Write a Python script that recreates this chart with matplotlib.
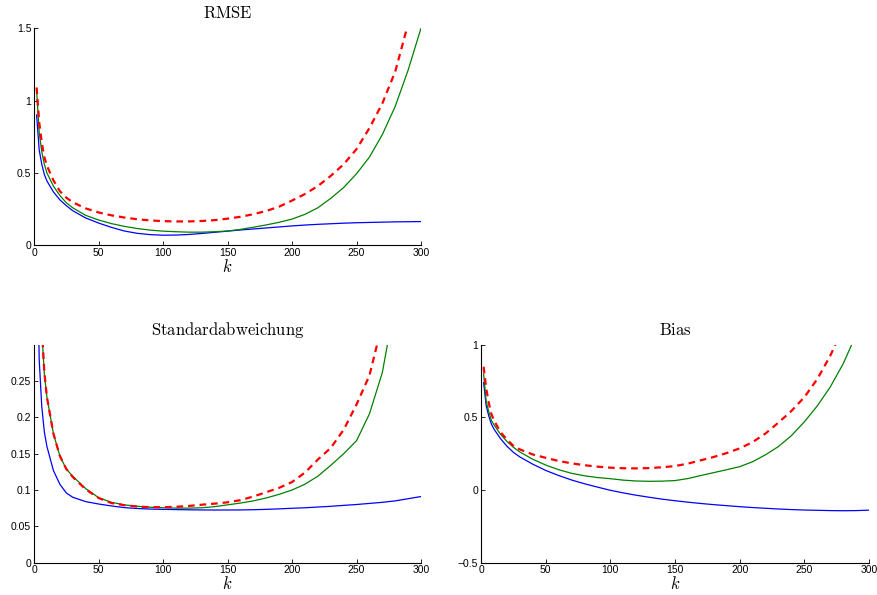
import matplotlib
matplotlib.use("Agg")
import matplotlib.pyplot as plt

plt.rcParams['mathtext.fontset'] = 'cm'
plt.rcParams['font.family'] = ['Liberation Sans', 'DejaVu Sans']

k = [2, 4, 6, 8, 10, 15, 20, 25, 30, 40, 50, 60, 70, 80, 90, 100, 110, 120, 130, 140,
     150, 160, 170, 180, 190, 200, 210, 220, 230, 240, 250, 260, 270, 280, 290, 300]

# RMSE
rmse_blue = [0.90, 0.66, 0.56, 0.49, 0.445, 0.37, 0.315, 0.275, 0.24, 0.19, 0.155, 0.125, 0.100,
             0.084, 0.075, 0.071, 0.072, 0.076, 0.083, 0.091, 0.099, 0.107, 0.114, 0.121, 0.128,
             0.135, 0.141, 0.146, 0.150, 0.154, 0.157, 0.159, 0.161, 0.163, 0.164, 0.165]
rmse_green = [1.07, 0.78, 0.645, 0.56, 0.50, 0.41, 0.345, 0.295, 0.26, 0.208, 0.176, 0.151, 0.132,
              0.117, 0.106, 0.099, 0.095, 0.092, 0.092, 0.095, 0.100, 0.111, 0.126, 0.142, 0.160,
              0.182, 0.215, 0.260, 0.325, 0.400, 0.495, 0.610, 0.765, 0.960, 1.210, 1.500]
rmse_red = [1.09, 0.85, 0.71, 0.61, 0.55, 0.45, 0.375, 0.33, 0.298, 0.256, 0.228, 0.208, 0.193,
            0.181, 0.173, 0.168, 0.166, 0.166, 0.169, 0.175, 0.185, 0.198, 0.216, 0.238, 0.268,
            0.310, 0.355, 0.410, 0.480, 0.560, 0.665, 0.810, 0.980, 1.200, 1.530, 2.000]

# Standardabweichung
std_blue = [0.50, 0.28, 0.215, 0.18, 0.16, 0.127, 0.108, 0.096, 0.090, 0.084, 0.0807, 0.078,
            0.0757, 0.0745, 0.0737, 0.0733, 0.0730, 0.0727, 0.0725, 0.0724, 0.0724, 0.0725,
            0.0728, 0.0733, 0.0740, 0.0748, 0.0755, 0.0765, 0.0775, 0.0788, 0.0800, 0.0815,
            0.0830, 0.0850, 0.0880, 0.0910]
std_green = [0.70, 0.45, 0.32, 0.26, 0.228, 0.178, 0.147, 0.129, 0.119, 0.102, 0.0895, 0.083,
             0.0795, 0.0775, 0.0762, 0.0755, 0.0750, 0.0750, 0.0755, 0.0770, 0.0795, 0.0820,
             0.0850, 0.0890, 0.0940, 0.1000, 0.1080, 0.1190, 0.1340, 0.1500, 0.1680, 0.2050,
             0.2620, 0.3600, 0.4800, 0.6200]
std_red = [0.72, 0.46, 0.325, 0.262, 0.228, 0.178, 0.147, 0.129, 0.118, 0.101, 0.089, 0.082,
           0.079, 0.0772, 0.0763, 0.0763, 0.0768, 0.0780, 0.0797, 0.0812, 0.0830, 0.0860,
           0.0910, 0.0970, 0.1030, 0.1110, 0.1240, 0.1420, 0.1580, 0.1830, 0.2180, 0.2580,
           0.3300, 0.4300, 0.5600, 0.7500]

# Bias
bias_blue = [0.74, 0.58, 0.51, 0.455, 0.42, 0.355, 0.302, 0.26, 0.228, 0.178, 0.135, 0.100,
             0.069, 0.043, 0.020, -0.002, -0.020, -0.036, -0.050, -0.063, -0.074, -0.084,
             -0.093, -0.101, -0.108, -0.115, -0.121, -0.126, -0.131, -0.135, -0.138, -0.140,
             -0.142, -0.143, -0.142, -0.139]
bias_green = [0.80, 0.61, 0.54, 0.48, 0.45, 0.385, 0.335, 0.295, 0.262, 0.212, 0.172, 0.140,
              0.115, 0.098, 0.086, 0.078, 0.068, 0.062, 0.060, 0.061, 0.065, 0.079, 0.100,
              0.120, 0.140, 0.161, 0.195, 0.243, 0.300, 0.375, 0.470, 0.580, 0.710, 0.870,
              1.070, 1.300]
bias_red = [0.85, 0.70, 0.60, 0.525, 0.48, 0.40, 0.348, 0.305, 0.280, 0.245, 0.222, 0.200,
            0.184, 0.171, 0.161, 0.154, 0.150, 0.149, 0.151, 0.157, 0.165, 0.182, 0.205,
            0.228, 0.255, 0.287, 0.330, 0.390, 0.465, 0.545, 0.640, 0.765, 0.925, 1.120,
            1.350, 1.600]

titles = ['RMSE', 'Standardabweichung', 'Bias']
xticks = [0, 50, 100, 150, 200, 250, 300]
ylims = [(0, 1.5), (0, 0.3), (-0.5, 1.0)]
yticks = [[0, 0.5, 1, 1.5], [0, 0.05, 0.1, 0.15, 0.2, 0.25], [-0.5, 0, 0.5, 1]]
ylabels = [['0', '0.5', '1', '1.5'], ['0', '0.05', '0.1', '0.15', '0.2', '0.25'],
           ['\u22120.5', '0', '0.5', '1']]
data = [(rmse_blue, rmse_green, rmse_red), (std_blue, std_green, std_red),
        (bias_blue, bias_green, bias_red)]

fig = plt.figure(figsize=(8.77, 5.95), dpi=100)
rects = [[0.0388, 0.5874, 0.4413, 0.3655],
         [0.0388, 0.0546, 0.4413, 0.3656],
         [0.5485, 0.0546, 0.4424, 0.3656]]

for i in range(3):
    ax = fig.add_axes(rects[i])
    b, g, r = data[i]
    ax.plot(k, b, color=(0, 0, 1), lw=0.9)
    ax.plot(k, g, color=(0, 0.5, 0), lw=0.9)
    ax.plot(k, r, color=(1, 0, 0), lw=1.6, ls=(0, (3.0, 2.2)))
    ax.set_xlim(0, 300)
    ax.set_ylim(*ylims[i])
    ax.set_xticks(xticks)
    ax.set_xticklabels([str(t) for t in xticks])
    ax.set_yticks(yticks[i])
    ax.set_yticklabels(ylabels[i])
    for s in ['top', 'right']:
        ax.spines[s].set_visible(False)
    for s in ['left', 'bottom']:
        ax.spines[s].set_linewidth(0.8)
    ax.tick_params(direction='in', length=3, width=0.6, labelsize=7.5, pad=2)
    ax.set_title(r'$\mathrm{' + titles[i] + '}$', fontsize=12, pad=7)
    ax.set_xlabel(r'$k$', fontsize=12, labelpad=0)

fig.savefig('out.png', dpi=100)
